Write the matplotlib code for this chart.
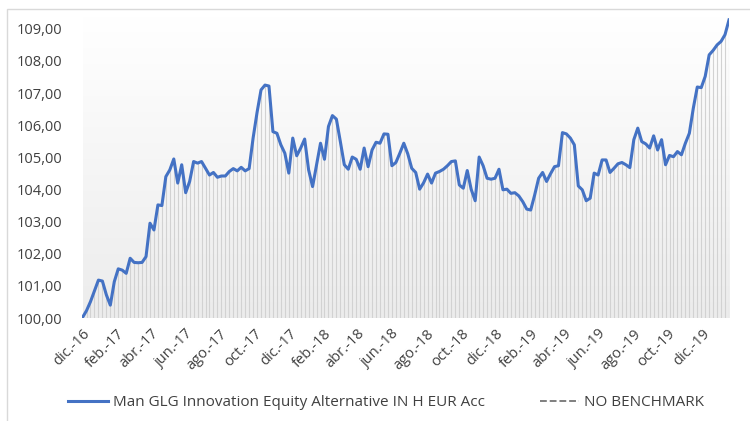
import matplotlib
matplotlib.use("Agg")
import matplotlib.pyplot as plt
import matplotlib.dates as mdates
from matplotlib.ticker import FuncFormatter
from matplotlib.patches import Rectangle
from matplotlib.lines import Line2D
import numpy as np
import pandas as pd

plt.rcParams['font.family'] = ['Open Sans', 'DejaVu Sans']

# valor liquidativo semanal (base 100)
valores = [
    100.02, 100.23, 100.51, 100.85, 101.18, 101.15, 100.72, 100.40, 101.13, 101.53,
    101.49, 101.39, 101.86, 101.73, 101.72, 101.73, 101.91, 102.95, 102.74, 103.52,
    103.50, 104.40, 104.61, 104.95, 104.20, 104.77, 103.90, 104.25, 104.87, 104.82,
    104.87, 104.66, 104.45, 104.53, 104.38, 104.42, 104.42, 104.56, 104.65, 104.58,
    104.69, 104.58, 104.65, 105.60, 106.40, 107.10, 107.25, 107.22, 105.80, 105.75,
    105.39, 105.13, 104.51, 105.60, 105.05, 105.29, 105.57, 104.61, 104.09, 104.77,
    105.44, 104.94, 105.96, 106.30, 106.19, 105.49, 104.77, 104.63, 105.01, 104.94,
    104.63, 105.29, 104.71, 105.23, 105.47, 105.44, 105.73, 105.72, 104.74, 104.84,
    105.13, 105.44, 105.11, 104.66, 104.53, 104.01, 104.21, 104.48, 104.20, 104.51,
    104.56, 104.63, 104.74, 104.87, 104.89, 104.14, 104.04, 104.59, 104.00, 103.65,
    105.01, 104.74, 104.35, 104.32, 104.35, 104.63, 103.99, 104.01, 103.88, 103.90,
    103.80, 103.62, 103.39, 103.36, 103.83, 104.35, 104.53, 104.25, 104.49, 104.71,
    104.74, 105.77, 105.73, 105.60, 105.39, 104.11, 103.99, 103.65, 103.73, 104.51,
    104.45, 104.92, 104.92, 104.53, 104.66, 104.80, 104.84, 104.77, 104.68, 105.55,
    105.91, 105.49, 105.42, 105.29, 105.67, 105.23, 105.55, 104.77, 105.06, 105.02,
    105.18, 105.08, 105.44, 105.75, 106.53, 107.19, 107.17, 107.52, 108.19, 108.33,
    108.50, 108.61, 108.82, 109.28,
]
fechas = pd.date_range('2016-12-02', periods=len(valores), freq='7D')

etiquetas_x = ['dic.-16', 'feb.-17', 'abr.-17', 'jun.-17', 'ago.-17', 'oct.-17',
               'dic.-17', 'feb.-18', 'abr.-18', 'jun.-18', 'ago.-18', 'oct.-18',
               'dic.-18', 'feb.-19', 'abr.-19', 'jun.-19', 'ago.-19', 'oct.-19',
               'dic.-19']
fechas_ticks = pd.date_range('2016-12-01', periods=len(etiquetas_x), freq='2MS')

serie = 'Man GLG Innovation Equity Alternative IN H EUR Acc'
benchmark = 'NO BENCHMARK'

fig = plt.figure(figsize=(7.5, 4.21), dpi=100)
ax = fig.add_axes([82 / 750, 103 / 421, 647 / 750, 302 / 421])

# marco del gráfico
fig.patches.append(Rectangle((7 / 750, -0.05), 1.0, (421 - 9) / 421 + 0.05,
                             transform=fig.transFigure, fill=False,
                             edgecolor='#d9d9d9', linewidth=1.0))

x0, x1 = mdates.date2num(fechas[0]), mdates.date2num(fechas[-1])
y0, y1 = 100, 109.4
grad = np.linspace(0, 1, 256).reshape(-1, 1)
ax.imshow(grad, extent=[x0, x1, y0, y1], aspect='auto', origin='upper',
          cmap=matplotlib.colors.LinearSegmentedColormap.from_list('g', ['#ffffff', '#ececec']),
          zorder=0)

ax.vlines(fechas, 100, valores, color='#d2d2d2', linewidth=0.8, zorder=1)
ax.plot(fechas, valores, color='#4472C4', linewidth=2.2, zorder=3,
        solid_joinstyle='round')

ax.set_xlim(x0, x1)
ax.set_ylim(y0, y1)
ax.set_yticks(np.arange(100, 110, 1))
ax.yaxis.set_major_formatter(FuncFormatter(lambda v, p: f'{v:.2f}'.replace('.', ',')))
ax.set_xticks(fechas_ticks)
ax.set_xticklabels(etiquetas_x, rotation=45, ha='right', rotation_mode='anchor')
ax.tick_params(axis='both', length=0, labelsize=10.5, colors='#404040')
ax.tick_params(axis='y', pad=14)
ax.tick_params(axis='x', pad=6)
for s in ax.spines.values():
    s.set_visible(False)

handles = [Line2D([], [], color='#4472C4', linewidth=2.2),
           Line2D([], [], color='#7f7f7f', linewidth=1.4, linestyle=(0, (3.5, 1.5)))]
fig.legend(handles, [serie, benchmark], loc='center', bbox_to_anchor=(0.515, 1 - 403 / 421),
           ncol=2, frameon=False, fontsize=11, handlelength=2.6, handletextpad=0.3,
           columnspacing=3.6, labelcolor='#404040')

fig.savefig('out.png', dpi=100)
